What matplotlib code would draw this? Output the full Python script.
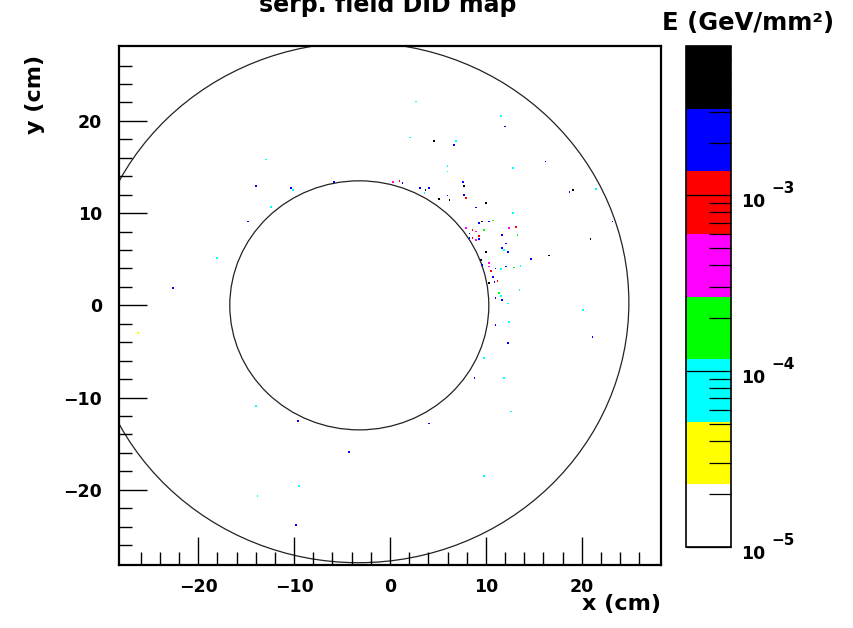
import numpy as np
import matplotlib
matplotlib.use('Agg')
import matplotlib.pyplot as plt
from matplotlib.colors import ListedColormap, LogNorm
from matplotlib.patches import Circle
from matplotlib.ticker import FixedLocator, LogLocator, NullFormatter
import matplotlib.cm as cm

# ---------------- data ----------------
title = "serp. field DID map"
x_label = "x (cm)"
y_label = "y (cm)"
z_label = "E (GeV/mm²)"

x_ticks = [-20, -10, 0, 10, 20]
y_ticks = [-20, -10, 0, 10, 20]
z_ticks = [1e-5, 1e-4, 1e-3]
z_tick_exps = ["−5", "−4", "−3"]

band_colors = ["#ffffff", "#ffff00", "#00ffff", "#00ff00",
               "#ff00ff", "#ff0000", "#0000ff", "#000000"]
z_min, z_max = 1e-5, 10 ** -2.15

inner_center = (-3.2, 0.0)
inner_radius = 13.5
outer_center = (-3.3, 0.3)
outer_radius = 28.2

hit_x = [0.3, 1.0, 1.3, 3.1, 3.7, 4.1, 3.6, 5.1, 6.0, 6.2, 7.7, 7.7, 7.9, 10.0, 9.0,
         12.8, 12.8, 16.2, 18.7, 19.1, 9.6, 9.3, 10.7, 7.9, 8.6, 9.0, 8.3, 8.6, 9.0,
         9.3, 9.8, 11.7, 12.4, 13.1, 13.3, 10.0, 11.7, 11.9, 12.3, 9.5, 9.6, 10.3,
         11.0, 11.6, 12.1, 12.9, 13.6, 10.7, 11.2, 10.3, 10.9, 11.4, 11.7, 12.3,
         13.5, 14.7, 16.6, 20.9, 11.0, 12.4, 12.3, 9.8, 20.1, 21.1, 8.8, 11.9, 6.0,
         7.6, 2.7, 11.6, 12.0, 2.1, 4.6, 6.9, 6.7, 6.0, -12.9, -14.0, -10.3, -10.1,
         -12.4, -14.8, -18.0, -22.6, -26.3, -14.0, -9.6, -5.8, -4.3, -9.5, -13.8,
         -9.8, 4.1, 12.6, 9.8, 21.5, 23.2, 8.3, 9.3, 10.3, 10.3, 10.5, 11.0, 11.6,
         12.1]
hit_y = [13.4, 13.5, 13.3, 12.7, 12.5, 12.7, 12.2, 11.5, 11.9, 11.4, 12.9, 12.0, 11.6,
         11.1, 10.6, 14.9, 10.0, 15.6, 12.3, 12.5, 9.1, 8.9, 9.2, 8.4, 8.2, 8.0, 7.8,
         7.3, 7.1, 7.2, 8.2, 7.6, 8.4, 8.5, 7.6, 5.8, 6.2, 6.0, 5.8, 4.9, 4.4, 4.6,
         4.0, 3.9, 4.2, 4.1, 4.3, 3.1, 2.6, 2.4, 2.5, 1.3, 0.6, 0.2, 1.7, 5.0, 5.4,
         7.2, -2.1, -1.8, -4.1, -5.7, -0.5, -3.4, -7.9, -7.9, 14.5, 13.4, 22.1, 20.5,
         19.4, 18.2, 17.8, 17.8, 17.4, 15.1, 15.8, 12.9, 12.7, 12.5, 10.7, 9.1, 5.1,
         1.9, -3.0, -10.9, -12.5, 13.4, -15.9, -19.6, -20.7, -23.8, -12.8, -11.5,
         -18.5, 12.6, 9.1, 7.3, 7.5, 9.1, 4.2, 3.7, 0.8, 1.0, 6.7]
hit_e = [4e-4, 1e-3, 2e-3, 2e-3, 4e-3, 2e-3, 8e-5, 4e-3, 2e-3, 4e-3, 4e-3, 2e-3, 1e-3,
         4e-3, 2e-3, 8e-5, 8e-5, 2e-3, 2e-3, 4e-3, 4e-3, 2e-3, 1.8e-4, 4e-4, 1e-3,
         4e-4, 2e-3, 1e-3, 4e-4, 2e-3, 1.8e-4, 2e-3, 4e-4, 1e-3, 1.8e-4, 4e-3, 2e-3,
         8e-5, 2e-3, 4e-3, 2e-3, 4e-4, 2e-3, 8e-5, 2e-3, 1.8e-4, 8e-5, 2e-3, 1e-3,
         4e-3, 2e-3, 1.8e-4, 2e-3, 8e-5, 8e-5, 2e-3, 4e-3, 4e-3, 2e-3, 8e-5, 2e-3,
         8e-5, 8e-5, 2e-3, 2e-3, 8e-5, 8e-5, 2e-3, 8e-5, 8e-5, 2e-3, 8e-5, 4e-3, 8e-5,
         2e-3, 8e-5, 8e-5, 2e-3, 2e-3, 8e-5, 8e-5, 2e-3, 8e-5, 2e-3, 3.5e-5, 8e-5,
         2e-3, 2e-3, 2e-3, 8e-5, 8e-5, 2e-3, 2e-3, 8e-5, 8e-5, 8e-5, 2e-3, 2e-3, 1e-3,
         2e-3, 4e-4, 1e-3, 2e-3, 8e-5, 2e-3]

# ---------------- figure ----------------
W, H = 854, 628
fig = plt.figure(figsize=(W / 100, H / 100), dpi=100, facecolor='white')
plt.rcParams['font.family'] = ['DejaVu Sans']

def fx(px):
    return px / W

def fy(py):
    return 1 - py / H

ax = fig.add_axes([fx(119), fy(565), fx(661) - fx(119), fy(45.7) - fy(565)])
ax.set_xlim(-28.25, 28.25)
ax.set_ylim(-28.15, 28.15)

cmap = ListedColormap(band_colors)
norm = LogNorm(vmin=z_min, vmax=z_max)

ax.add_patch(Circle(inner_center, inner_radius, fill=False, ec='#222222', lw=0.9))
ax.add_patch(Circle(outer_center, outer_radius, fill=False, ec='#222222', lw=0.9))
ax.scatter(hit_x, hit_y, c=hit_e, cmap=cmap, norm=norm, s=1.6, marker='s',
           linewidths=0, zorder=3)

for s in ax.spines.values():
    s.set_linewidth(1.6)
    s.set_color('black')

ax.xaxis.set_major_locator(FixedLocator(x_ticks))
ax.yaxis.set_major_locator(FixedLocator(y_ticks))
ax.xaxis.set_minor_locator(FixedLocator([v for v in range(-26, 27, 2) if v % 10]))
ax.yaxis.set_minor_locator(FixedLocator([v for v in range(-26, 27, 2) if v % 10]))
ax.tick_params(which='both', direction='in', top=False, right=False, width=1.0,
               color='black')
ax.tick_params(which='major', length=20, labelsize=12.5)
ax.tick_params(axis='x', which='major', pad=9)
ax.tick_params(axis='y', which='major', pad=12)
ax.tick_params(which='minor', length=9.5)
for lab in ax.get_xticklabels() + ax.get_yticklabels():
    lab.set_fontweight('bold')

fig.text(fx(661), fy(594), x_label, ha='right', va='top', fontsize=16,
         fontweight='bold')
fig.text(fx(35), fy(55), y_label, ha='center', va='top', rotation=90, fontsize=16,
         fontweight='bold')
fig.text(fx(388), fy(12), title, ha='center', va='baseline', fontsize=17,
         fontweight='bold')
fig.text(fx(662), fy(30), z_label, ha='left', va='baseline', fontsize=17.5,
         fontweight='bold')

# ---------------- colour scale ----------------
cax = fig.add_axes([fx(686), fy(547), fx(731) - fx(686), fy(46) - fy(547)])
cb = fig.colorbar(cm.ScalarMappable(norm=norm, cmap=cmap), cax=cax)
cb.outline.set_linewidth(1.2)
cax.yaxis.set_ticks_position('right')
cax.yaxis.set_major_locator(FixedLocator(z_ticks))
cax.yaxis.set_minor_locator(LogLocator(base=10, subs=np.arange(2, 10)))
cax.yaxis.set_minor_formatter(NullFormatter())
cax.set_yticklabels([''] * len(z_ticks))
cax.tick_params(which='major', direction='in', length=32.4, width=0.9, color='black')
cax.tick_params(which='minor', direction='in', length=16, width=0.9, color='black')
for v, ex in zip(z_ticks, z_tick_exps):
    cax.annotate('10', xy=(1.0, v), xycoords=('axes fraction', 'data'),
                 xytext=(7, -5), textcoords='offset points', ha='left', va='center',
                 fontsize=12.5, fontweight='bold')
    cax.annotate(ex, xy=(1.0, v), xycoords=('axes fraction', 'data'),
                 xytext=(29, 5), textcoords='offset points', ha='left', va='center',
                 fontsize=11, fontweight='bold')

fig.savefig('out.png', dpi=100, facecolor='white')
